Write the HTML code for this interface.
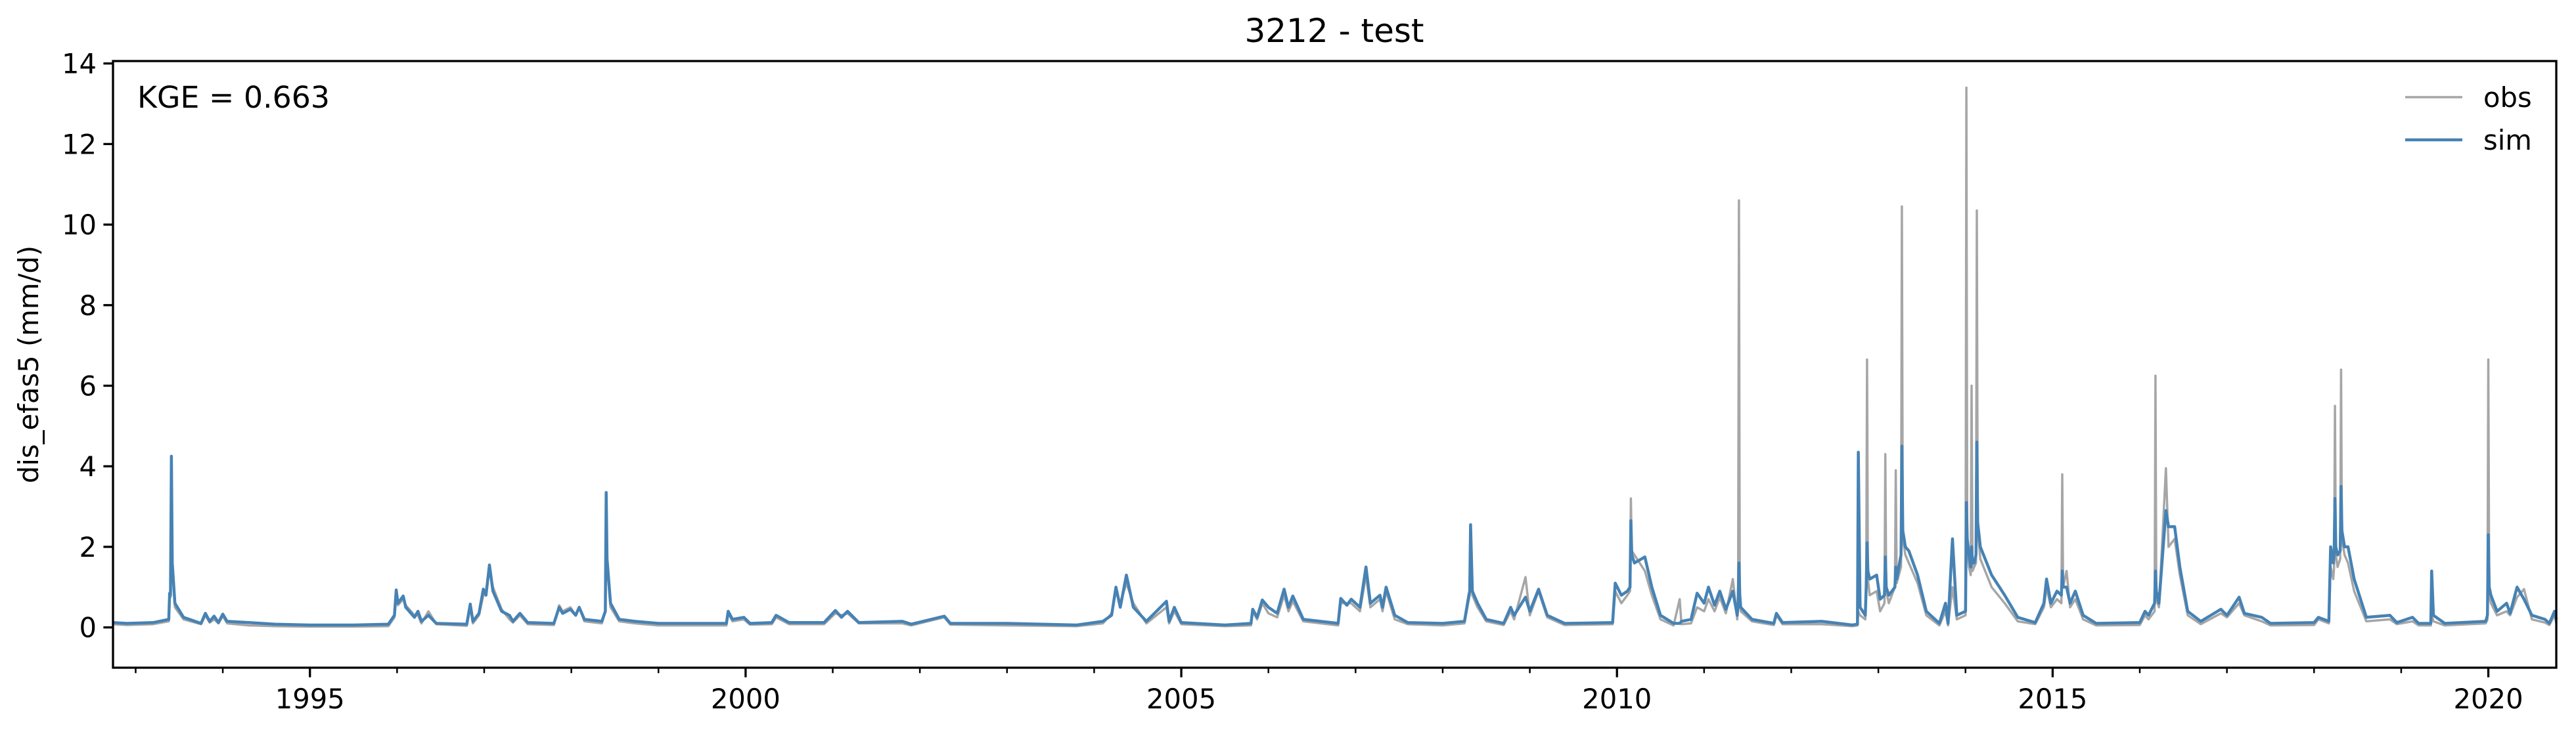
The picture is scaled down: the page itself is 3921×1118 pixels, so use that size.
<!DOCTYPE html>
<html><head><meta charset="utf-8"><style>
html,body{margin:0;padding:0;background:#fff;}
svg{display:block;font-family:"DejaVu Sans","Liberation Sans",sans-serif;}
</style></head><body>
<svg id="chart" width="3921" height="1118" viewBox="0 0 3921 1118" xmlns="http://www.w3.org/2000/svg">
<rect width="3921" height="1118" fill="#fff"/>
<text x="2031" y="64" font-size="50" text-anchor="middle">3212 - test</text>
<text transform="translate(58,555) rotate(-90)" font-size="41.7" text-anchor="middle">dis_efas5 (mm/d)</text>
<g id="plot"></g>
<g id="axes"></g>
<text x="209" y="164" font-size="45.8">KGE = 0.663</text>
<g>
<line x1="3661" y1="148" x2="3748" y2="148" stroke="#a6a6a6" stroke-width="3.5"/>
<text x="3780" y="163" font-size="41.7">obs</text>
<line x1="3661" y1="213" x2="3748" y2="213" stroke="#4682b4" stroke-width="4.5"/>
<text x="3780" y="228" font-size="41.7">sim</text>
</g>
</svg>
<script>
const dates=[1992.74,1992.9,1993.2,1993.38,1993.39,1993.40,1993.41,1993.42,1993.45,1993.55,1993.75,1993.8,1993.85,1993.9,1993.95,1994.0,1994.05,1994.3,1994.6,1995.0,1995.5,1995.9,1995.97,1995.99,1996.01,1996.07,1996.1,1996.2,1996.24,1996.28,1996.36,1996.45,1996.8,1996.84,1996.87,1996.94,1996.99,1997.02,1997.06,1997.1,1997.2,1997.29,1997.33,1997.41,1997.5,1997.8,1997.86,1997.9,1997.99,1998.05,1998.09,1998.15,1998.35,1998.39,1998.40,1998.41,1998.45,1998.55,1998.73,1999.0,1999.5,1999.78,1999.8,1999.85,1999.98,2000.05,2000.3,2000.35,2000.5,2000.9,2001.03,2001.1,2001.17,2001.3,2001.8,2001.9,2002.28,2002.35,2003.0,2003.8,2004.1,2004.2,2004.25,2004.3,2004.37,2004.45,2004.6,2004.83,2004.86,2004.92,2005.0,2005.5,2005.8,2005.82,2005.87,2005.93,2006.0,2006.1,2006.18,2006.23,2006.28,2006.4,2006.8,2006.83,2006.9,2006.95,2007.05,2007.12,2007.17,2007.28,2007.31,2007.35,2007.45,2007.6,2008.0,2008.25,2008.3,2008.31,2008.32,2008.34,2008.4,2008.5,2008.7,2008.78,2008.82,2008.95,2009.0,2009.1,2009.2,2009.4,2009.95,2009.98,2010.05,2010.12,2010.15,2010.16,2010.17,2010.2,2010.32,2010.4,2010.5,2010.65,2010.72,2010.74,2010.85,2010.92,2011.0,2011.05,2011.12,2011.18,2011.25,2011.33,2011.38,2011.39,2011.4,2011.41,2011.42,2011.55,2011.8,2011.83,2011.9,2012.35,2012.7,2012.76,2012.77,2012.79,2012.85,2012.86,2012.87,2012.88,2012.9,2012.98,2013.02,2013.07,2013.08,2013.09,2013.12,2013.19,2013.2,2013.21,2013.26,2013.27,2013.28,2013.31,2013.35,2013.45,2013.55,2013.7,2013.77,2013.8,2013.85,2013.9,2014.0,2014.01,2014.02,2014.04,2014.06,2014.07,2014.08,2014.1,2014.12,2014.13,2014.14,2014.17,2014.3,2014.45,2014.6,2014.8,2014.9,2014.93,2014.98,2015.05,2015.10,2015.11,2015.12,2015.16,2015.2,2015.26,2015.35,2015.5,2016.0,2016.06,2016.1,2016.17,2016.18,2016.19,2016.22,2016.3,2016.33,2016.4,2016.46,2016.55,2016.7,2016.93,2017.0,2017.14,2017.2,2017.4,2017.5,2018.0,2018.05,2018.17,2018.19,2018.22,2018.23,2018.24,2018.25,2018.27,2018.30,2018.31,2018.32,2018.35,2018.39,2018.46,2018.6,2018.87,2018.95,2019.13,2019.2,2019.34,2019.35,2019.37,2019.5,2019.97,2019.99,2020.0,2020.01,2020.03,2020.1,2020.21,2020.25,2020.33,2020.41,2020.5,2020.65,2020.7,2020.76,2020.78];
const simValues=[0.12,0.1,0.12,0.2,0.85,0.8,4.25,1.6,0.6,0.25,0.1,0.35,0.15,0.28,0.12,0.33,0.15,0.12,0.08,0.06,0.06,0.08,0.3,0.93,0.6,0.78,0.5,0.25,0.4,0.15,0.3,0.1,0.08,0.58,0.15,0.35,0.95,0.8,1.55,0.9,0.4,0.3,0.15,0.35,0.12,0.1,0.5,0.35,0.45,0.3,0.5,0.2,0.15,0.4,3.35,1.7,0.6,0.2,0.15,0.1,0.1,0.1,0.4,0.2,0.25,0.1,0.12,0.3,0.12,0.12,0.42,0.25,0.4,0.12,0.15,0.08,0.28,0.1,0.1,0.06,0.15,0.3,1.0,0.5,1.3,0.5,0.15,0.65,0.15,0.5,0.12,0.06,0.1,0.45,0.25,0.68,0.5,0.35,0.95,0.5,0.78,0.2,0.1,0.72,0.55,0.7,0.5,1.5,0.6,0.8,0.5,1.0,0.3,0.12,0.1,0.15,0.8,0.9,2.55,0.9,0.6,0.2,0.1,0.5,0.3,0.75,0.4,0.95,0.3,0.1,0.12,1.1,0.8,0.9,1.0,2.65,1.8,1.6,1.75,1.0,0.3,0.1,0.1,0.15,0.2,0.85,0.6,1.0,0.55,0.9,0.45,0.9,0.3,0.6,1.6,0.8,0.5,0.2,0.1,0.35,0.12,0.15,0.06,0.08,4.35,0.5,0.3,1.0,2.1,1.4,1.2,1.3,0.7,0.8,1.75,1.0,0.8,1.0,1.5,1.2,1.8,4.5,2.4,2.0,1.9,1.3,0.4,0.1,0.6,0.1,2.2,0.3,0.4,3.1,2.2,1.8,1.5,2.0,1.6,1.6,1.8,4.6,2.6,2.0,1.3,0.8,0.25,0.12,0.6,1.2,0.6,0.9,0.8,1.4,1.0,1.0,0.6,0.9,0.3,0.1,0.12,0.4,0.3,0.6,1.4,0.9,0.6,2.9,2.5,2.5,1.5,0.4,0.15,0.45,0.3,0.75,0.35,0.25,0.1,0.12,0.25,0.15,2.0,1.6,1.8,3.2,2.0,1.8,1.9,3.5,2.4,2.0,2.0,1.2,0.25,0.3,0.12,0.25,0.1,0.1,1.4,0.3,0.1,0.15,0.3,2.3,1.0,0.8,0.4,0.6,0.35,1.0,0.7,0.3,0.2,0.1,0.4,0.2];
const obsValues=[0.08,0.06,0.08,0.15,0.8,0.75,4.0,1.5,0.5,0.2,0.08,0.3,0.12,0.2,0.1,0.28,0.1,0.05,0.03,0.02,0.02,0.03,0.25,0.85,0.55,0.7,0.55,0.3,0.3,0.1,0.4,0.08,0.04,0.5,0.1,0.3,0.8,0.9,1.4,1.0,0.45,0.2,0.12,0.3,0.08,0.06,0.55,0.4,0.5,0.3,0.5,0.15,0.1,0.4,3.0,1.5,0.5,0.15,0.1,0.05,0.05,0.05,0.35,0.15,0.2,0.07,0.08,0.25,0.08,0.08,0.35,0.3,0.35,0.1,0.1,0.05,0.25,0.07,0.05,0.03,0.1,0.35,0.9,0.6,1.1,0.6,0.1,0.5,0.1,0.4,0.08,0.03,0.05,0.4,0.2,0.6,0.35,0.25,0.8,0.4,0.65,0.15,0.05,0.6,0.6,0.6,0.4,1.3,0.5,0.7,0.4,0.9,0.2,0.08,0.05,0.1,0.7,0.8,1.6,0.8,0.5,0.15,0.06,0.4,0.2,1.25,0.3,0.9,0.25,0.06,0.08,0.9,0.6,0.8,0.9,3.2,1.9,1.8,1.4,0.8,0.2,0.05,0.7,0.08,0.1,0.5,0.4,0.7,0.4,0.75,0.35,1.2,0.2,0.5,10.6,0.6,0.4,0.15,0.06,0.3,0.08,0.08,0.03,0.05,0.4,0.3,0.2,0.8,6.65,1.2,0.8,0.9,0.4,0.6,4.3,0.9,0.6,1.0,3.9,1.1,1.5,10.45,2.2,1.8,1.6,1.1,0.3,0.05,0.4,0.05,1.0,0.2,0.3,13.4,2.0,1.5,1.3,6.0,1.4,1.5,1.6,10.35,2.4,1.7,1.0,0.6,0.15,0.08,0.5,1.0,0.5,0.7,0.6,3.8,1.0,1.4,0.5,0.7,0.2,0.05,0.06,0.3,0.2,0.4,6.25,0.7,0.5,3.95,2.0,2.2,1.3,0.3,0.08,0.35,0.25,0.6,0.3,0.15,0.05,0.06,0.2,0.1,1.5,1.2,1.5,5.5,1.8,1.5,1.7,6.4,2.2,1.8,1.6,0.9,0.15,0.2,0.08,0.15,0.05,0.05,0.3,0.15,0.05,0.1,0.2,6.65,0.8,0.6,0.3,0.4,0.3,0.75,0.95,0.2,0.12,0.06,0.3,0.1];
const yTicks=[0,2,4,6,8,10,12,14];
const xTickYears=[1995,2000,2005,2010,2015,2020];
const xMin=1992.74,xMax=2020.78,yMin=-1.0,yMax=14.06;
const L=172,R=3891,T=93,B=1017;
const NS="http://www.w3.org/2000/svg";
function xs(v){return L+(v-xMin)/(xMax-xMin)*(R-L);}
function ys(v){return B-(v-yMin)/(yMax-yMin)*(B-T);}
function mk(tag,attrs,parent){const e=document.createElementNS(NS,tag);for(const k in attrs)e.setAttribute(k,attrs[k]);parent.appendChild(e);return e;}
const plot=document.getElementById('plot'),axes=document.getElementById('axes');
function pts(vals){return dates.map((d,i)=>xs(d).toFixed(1)+','+ys(vals[i]).toFixed(1)).join(' ');}
const obsLine=mk('polyline',{points:pts(obsValues),fill:'none',stroke:'#a6a6a6','stroke-width':3.5,'stroke-linejoin':'round'},plot);


const simLine=mk('polyline',{points:pts(simValues),fill:'none',stroke:'#4682b4','stroke-width':4.5,'stroke-linejoin':'round'},plot);


const frame=mk('rect',{x:L,y:T,width:R-L,height:B-T,fill:'none',stroke:'#000','stroke-width':3.3},axes);


yTicks.forEach(v=>{
  const y=ys(v);
  const t=mk('line',{x1:L-14.6,x2:L,y1:y,y2:y,stroke:'#000','stroke-width':3.3},axes);
  
  
  const lb=mk('text',{x:L-25,y:y+15,'font-size':41.7,'text-anchor':'end'},axes);
  lb.textContent=v;
  
  
});
for(let yr=1993;yr<=2020;yr++){
  const x=xs(yr);
  const major=xTickYears.includes(yr);
  const t=mk('line',{x1:x,x2:x,y1:B,y2:B+(major?14.6:8.3),stroke:'#000','stroke-width':major?3.3:2.5},axes);
  
  
}
xTickYears.forEach(yr=>{
  const lb=mk('text',{x:xs(yr),y:1079,'font-size':41.7,'text-anchor':'middle'},axes);
  lb.textContent=yr;
  
  
});
</script>
</body></html>
